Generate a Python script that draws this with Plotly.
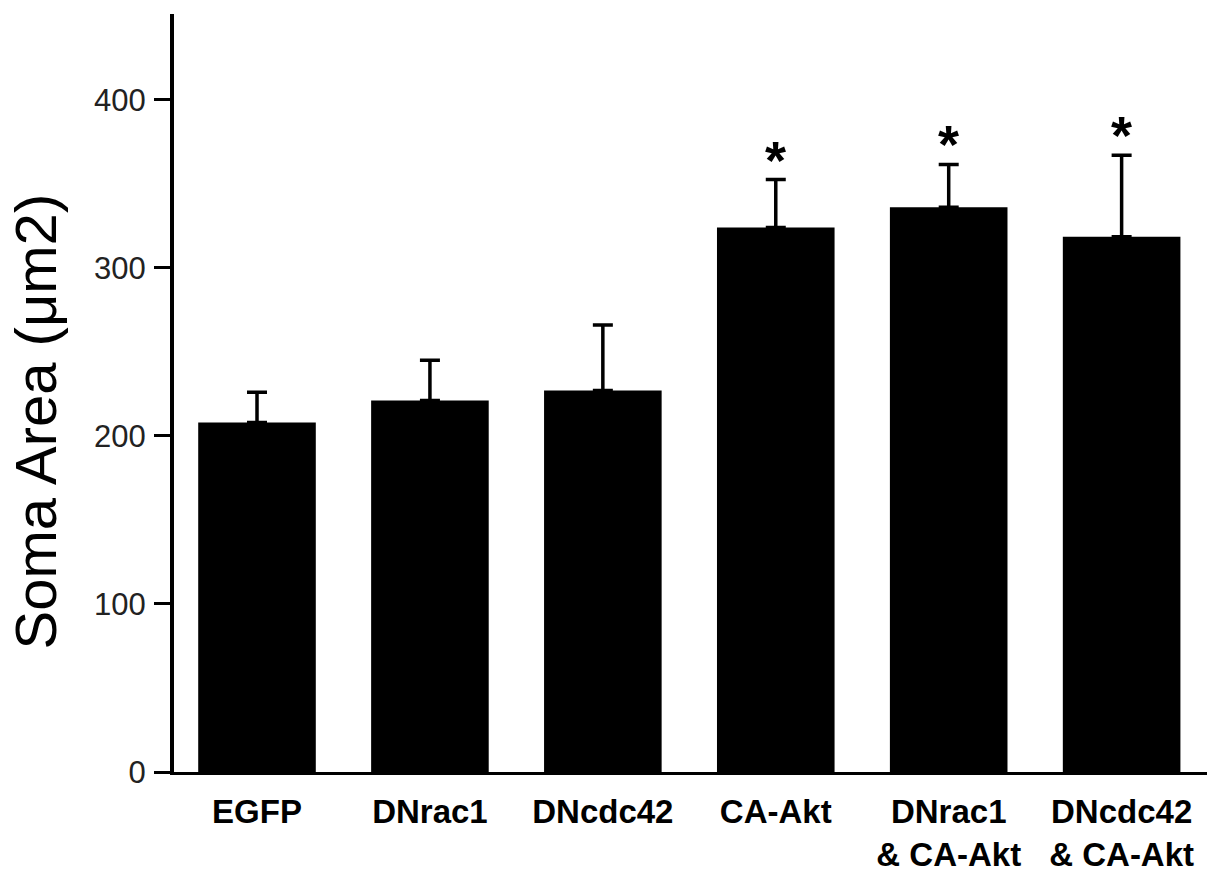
import plotly.graph_objects as go

categories = ["EGFP", "DNrac1", "DNcdc42", "CA-Akt", "DNrac1<br>& CA-Akt", "DNcdc42<br>& CA-Akt"]
means = [208, 221, 227, 324, 336, 318.5]
errors = [18, 24, 39, 28.5, 25.5, 48.5]
significant = [False, False, False, True, True, True]
y_ticks = [0, 100, 200, 300, 400]

FONT = "Liberation Sans, Arial, Helvetica, sans-serif"

fig = go.Figure()
fig.add_trace(go.Bar(
    x=categories, y=means,
    marker=dict(color="black", line=dict(width=0)),
    width=0.68,
    error_y=dict(type="data", array=errors, arrayminus=[0] * len(errors), symmetric=False,
                 color="black", thickness=3.5, width=10),
))

for c, m, e, s in zip(categories, means, errors, significant):
    if s:
        fig.add_annotation(x=c, y=m + e, text="<b>*</b>", showarrow=False,
                           xref="x", yref="y", yanchor="bottom", yshift=-12,
                           font=dict(family=FONT, size=54, color="black"))

fig.add_annotation(x=-0.1334, y=0.4626, xref="paper", yref="paper",
                   text="Soma Area (\u03bcm2)", textangle=-90, showarrow=False,
                   xanchor="center", yanchor="middle",
                   font=dict(family=FONT, size=58, color="black"))

fig.update_layout(
    width=1207, height=865,
    margin=dict(l=166, r=0, t=6, b=98, pad=0),
    paper_bgcolor="white", plot_bgcolor="white",
    showlegend=False,
    font=dict(family=FONT, color="black"),
)
fig.update_xaxes(
    type="category", range=[-0.48, 5.54],
    showline=True, linecolor="black", linewidth=3,
    ticks="", showgrid=False, zeroline=False,
    tickfont=dict(family=FONT, size=33, color="black", weight="bold"),
    ticklabelstandoff=8,
)
fig.update_yaxes(
    range=[0, 451], tickvals=y_ticks,
    showline=True, linecolor="black", linewidth=4,
    ticks="outside", ticklen=16, tickwidth=3, tickcolor="black",
    showgrid=False, zeroline=False,
    tickfont=dict(family=FONT, size=31, color="#222"),
    ticklabelstandoff=2,
)

fig.write_html("out.html")
